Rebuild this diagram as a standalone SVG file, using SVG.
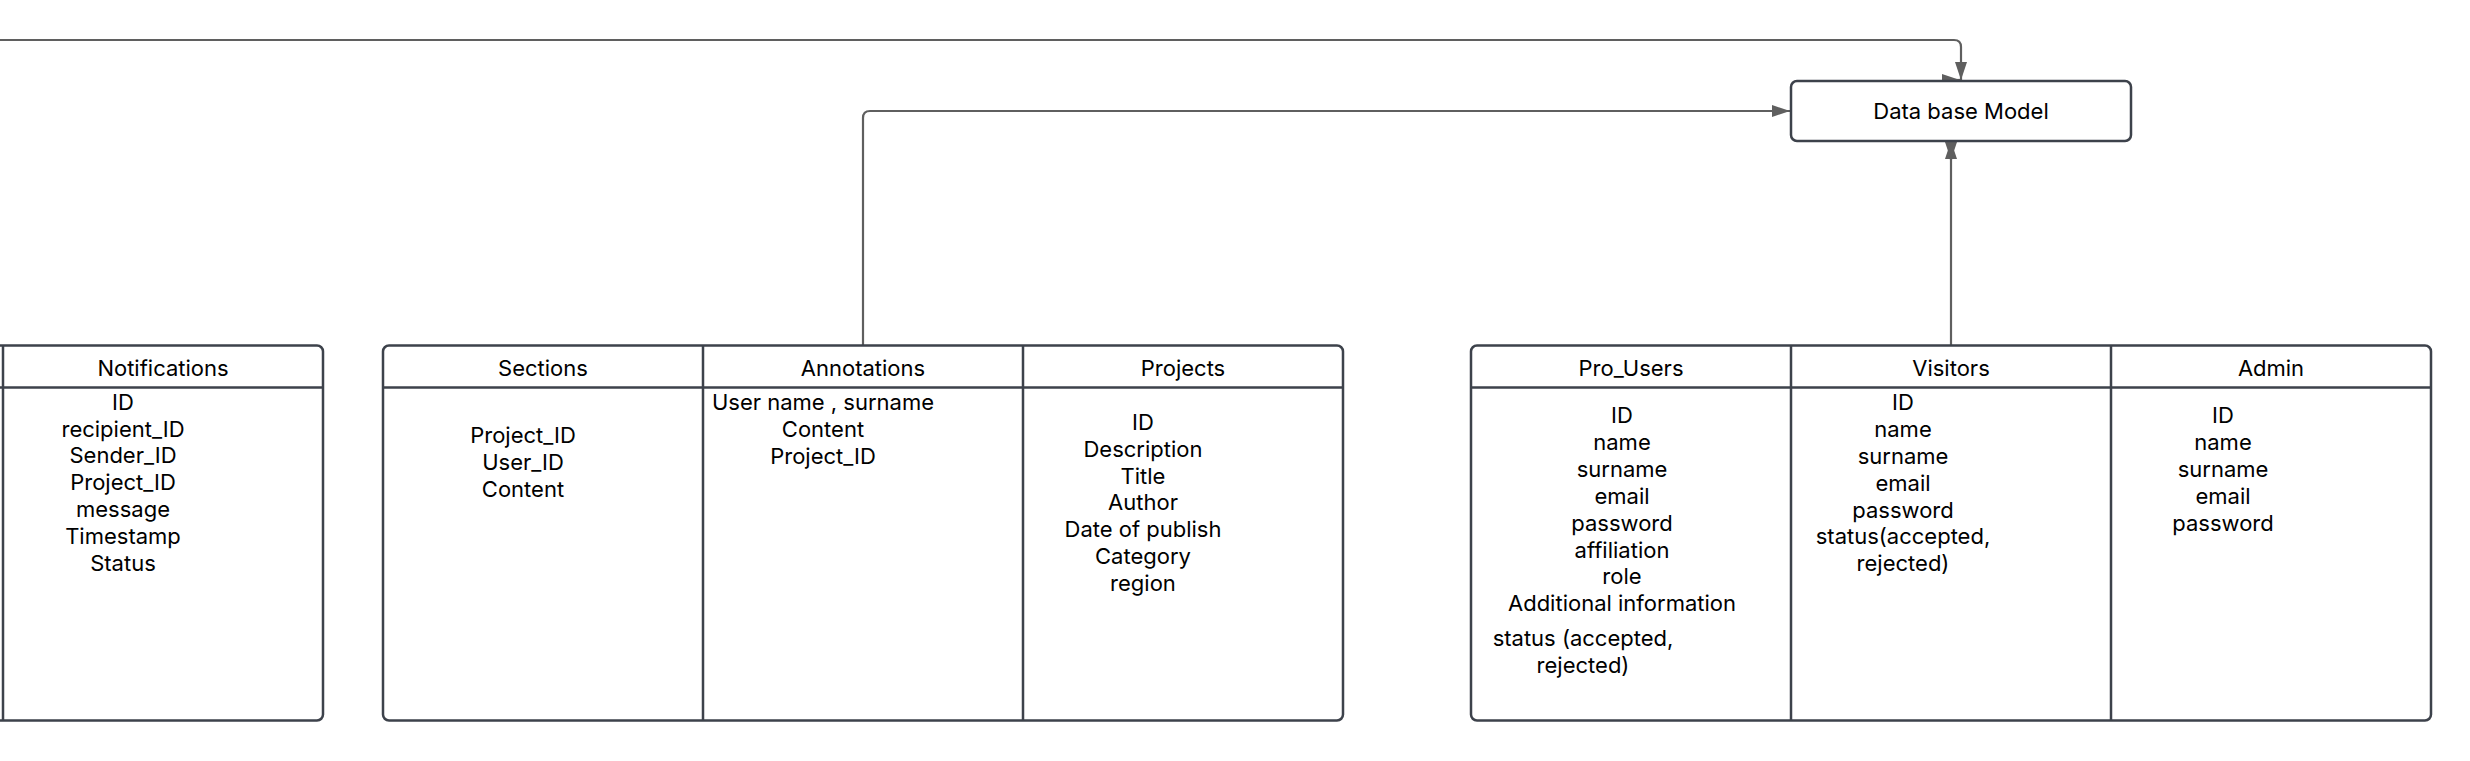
<svg xmlns="http://www.w3.org/2000/svg" width="2470" height="761" viewBox="0 0 2470 761">
<defs>
<marker id="arr" viewBox="0 0 18 12" markerWidth="18" markerHeight="12" refX="18" refY="6" orient="auto" markerUnits="userSpaceOnUse">
<path d="M0,0 L18,6 L0,12 z" fill="#5f5f5f"/>
</marker>
</defs>
<style>
.tbl{fill:#ffffff;stroke:#3d424b;stroke-width:2.5}
.ln{stroke:#3d424b;stroke-width:2.5;fill:none}
.con{stroke:#5f5f5f;stroke-width:2.2;fill:none}
text{font-family:"Inter","Liberation Sans",sans-serif;font-size:22px;fill:#000000;text-anchor:middle}
</style>
<rect width="2470" height="761" fill="#ffffff"/>

<g id="connectors">
<path class="con" d="M0,40 H1954 Q1961,40 1961,47 V80" marker-end="url(#arr)"/>
<path class="con" d="M1943,80 H1960" marker-end="url(#arr)"/>
<path class="con" d="M863,345 V118 Q863,111 870,111 H1790" marker-end="url(#arr)"/>
<path class="con" d="M1951,345 V141" marker-end="url(#arr)"/>
<path class="con" d="M1951,143 V160" marker-end="url(#arr)"/>
</g>

<g id="dbmodel">
<rect class="tbl" x="1791" y="81" width="340" height="60" rx="6"/>
<text x="1961" y="119">Data base Model</text>
</g>

<g id="notifications">
<rect class="tbl" x="-317" y="345.5" width="640" height="375" rx="6"/>
<line class="ln" x1="-317" y1="387.5" x2="323" y2="387.5"/>
<line class="ln" x1="3" y1="345.5" x2="3" y2="720.5"/>
<text x="163" y="375.7">Notifications</text>
<text x="123" y="409.7">ID</text>
<text x="123" y="436.5">recipient_ID</text>
<text x="123" y="463.3">Sender_ID</text>
<text x="123" y="490.1">Project_ID</text>
<text x="123" y="516.9">message</text>
<text x="123" y="543.7">Timestamp</text>
<text x="123" y="570.5">Status</text>
</g>

<g id="content-tables">
<rect class="tbl" x="383" y="345.5" width="960" height="375" rx="6"/>
<line class="ln" x1="383" y1="387.5" x2="1343" y2="387.5"/>
<line class="ln" x1="703" y1="345.5" x2="703" y2="720.5"/>
<line class="ln" x1="1023" y1="345.5" x2="1023" y2="720.5"/>
</g>

<g id="sections">
<text x="543" y="375.7">Sections</text>
<text x="523" y="443">Project_ID</text>
<text x="523" y="469.8">User_ID</text>
<text x="523" y="496.6">Content</text>
</g>

<g id="annotations">
<text x="863" y="375.7">Annotations</text>
<text x="823" y="410.3">User name , surname</text>
<text x="823" y="437.1">Content</text>
<text x="823" y="463.9">Project_ID</text>
</g>

<g id="projects">
<text x="1183" y="375.7">Projects</text>
<text x="1143" y="429.7">ID</text>
<text x="1143" y="456.6">Description</text>
<text x="1143" y="483.5">Title</text>
<text x="1143" y="510.4">Author</text>
<text x="1143" y="537.3">Date of publish</text>
<text x="1143" y="564.2">Category</text>
<text x="1143" y="591.1">region</text>
</g>

<g id="user-tables">
<rect class="tbl" x="1471" y="345.5" width="960" height="375" rx="6"/>
<line class="ln" x1="1471" y1="387.5" x2="2431" y2="387.5"/>
<line class="ln" x1="1791" y1="345.5" x2="1791" y2="720.5"/>
<line class="ln" x1="2111" y1="345.5" x2="2111" y2="720.5"/>
</g>

<g id="pro_users">
<text x="1631" y="375.7">Pro_Users</text>
<text x="1622" y="423">ID</text>
<text x="1622" y="449.9">name</text>
<text x="1622" y="476.8">surname</text>
<text x="1622" y="503.7">email</text>
<text x="1622" y="530.6">password</text>
<text x="1622" y="557.5">affiliation</text>
<text x="1622" y="584.4">role</text>
<text x="1622" y="611.3">Additional information</text>
<text x="1583" y="646.3">status (accepted,</text>
<text x="1583" y="673">rejected)</text>
</g>

<g id="visitors">
<text x="1951" y="375.7">Visitors</text>
<text x="1903" y="410.3">ID</text>
<text x="1903" y="437.1">name</text>
<text x="1903" y="463.9">surname</text>
<text x="1903" y="490.7">email</text>
<text x="1903" y="517.5">password</text>
<text x="1903" y="544.3">status(accepted,</text>
<text x="1903" y="571.1">rejected)</text>
</g>

<g id="admin">
<text x="2271" y="375.7">Admin</text>
<text x="2223" y="423">ID</text>
<text x="2223" y="449.9">name</text>
<text x="2223" y="476.8">surname</text>
<text x="2223" y="503.7">email</text>
<text x="2223" y="530.6">password</text>
</g>
</svg>
